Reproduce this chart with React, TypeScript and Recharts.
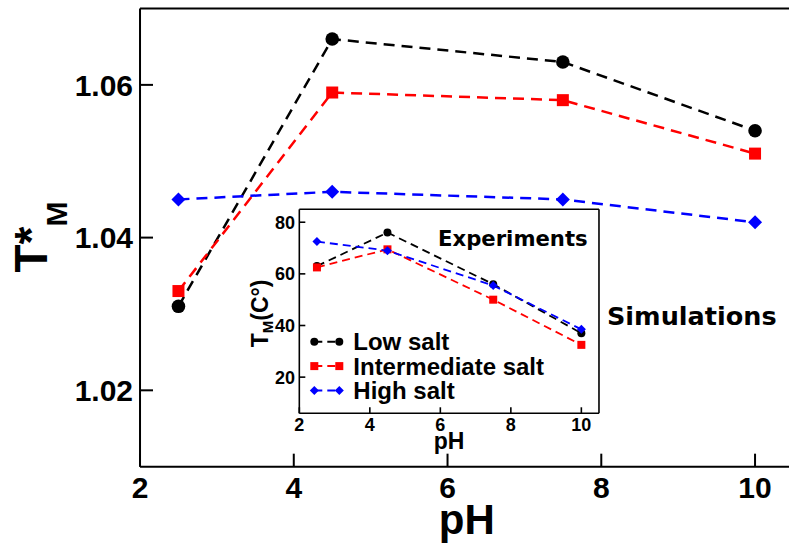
import React from 'react';
import { LineChart, Line, XAxis, YAxis, Legend, CartesianGrid } from 'recharts';

const FONT = "'Liberation Sans', Arial, Helvetica, sans-serif";
const DEJAVU = "'DejaVu Sans', Verdana, sans-serif";

// pH values sampled by both the simulations and the experiments
const phValues = [2.5, 4.5, 7.5, 10];

// Simulated reduced melting temperature T*_M
const simLowSalt = [1.031, 1.066, 1.063, 1.054];
const simIntermediateSalt = [1.033, 1.059, 1.058, 1.051];
const simHighSalt = [1.045, 1.046, 1.045, 1.042];

// Measured melting temperature T_M in °C
const expLowSalt = [63, 76, 56, 37];
const expIntermediateSalt = [62.5, 69.5, 50, 32.5];
const expHighSalt = [72.5, 69, 55.5, 38.5];

const seriesNames = ['Low salt', 'Intermediate salt', 'High salt'];
const seriesKeys = ['low', 'mid', 'high'];
const seriesColors = ['#000000', '#ff0000', '#0000ff'];
const seriesShapes = ['circle', 'square', 'diamond'];

const mainXTicks = [2, 4, 6, 8, 10];
const mainXMinorTicks = [3, 5, 7, 9];
const mainYTicks = [1.02, 1.04, 1.06];
const mainYMinorTicks = [1.03, 1.05];
const insetXTicks = [2, 4, 6, 8, 10];
const insetXMinorTicks = [3, 5, 7, 9];
const insetYTicks = [20, 40, 60, 80];
const insetYMinorTicks = [10, 30, 50, 70];

const simData = phValues.map((ph, i) => ({
  ph,
  low: simLowSalt[i],
  mid: simIntermediateSalt[i],
  high: simHighSalt[i],
}));

const expData = phValues.map((ph, i) => ({
  ph,
  low: expLowSalt[i],
  mid: expIntermediateSalt[i],
  high: expHighSalt[i],
}));

// axes are kept (almost) zero-sized so the plot frame sits exactly at the margins
const THIN = 0.01;

const markerShape = (shape: string, color: string, size: number, cx: number, cy: number, key: string) => {
  if (shape === 'circle') return <circle key={key} cx={cx} cy={cy} r={size} fill={color} />;
  if (shape === 'square')
    return <rect key={key} x={cx - size} y={cy - size} width={size * 2} height={size * 2} fill={color} />;
  return (
    <polygon
      key={key}
      points={`${cx},${cy - size} ${cx + size},${cy} ${cx},${cy + size} ${cx - size},${cy}`}
      fill={color}
    />
  );
};

const makeDot = (shape: string, color: string, size: number) => (props: any) => {
  const { cx, cy, index } = props;
  if (cx == null || cy == null) return <g key={`none-${index}`} />;
  return markerShape(shape, color, size, cx, cy, `dot-${shape}-${index}`);
};

const frame = (w: number) => ({ stroke: '#000', strokeWidth: w });

const MainXLabel = (props: any) => {
  const vb = props.viewBox || {};
  return (
    <text
      x={vb.x + vb.width / 2}
      y={vb.y + 67}
      textAnchor="middle"
      fontFamily={FONT}
      fontWeight="bold"
      fontSize={42}
      fill="#000"
    >
      pH
    </text>
  );
};

const MainYLabel = (props: any) => {
  const vb = props.viewBox || {};
  const bx = vb.x - 93;
  const by = vb.y + vb.height / 2 + 35;
  return (
    <text transform={`translate(${bx},${by}) rotate(-90)`} fontFamily={FONT} fontWeight="bold" fill="#000">
      <tspan fontSize={46}>T*</tspan>
      <tspan fontSize={30} dy={20}>
        M
      </tspan>
    </text>
  );
};

const InsetXLabel = (props: any) => {
  const vb = props.viewBox || {};
  return (
    <text
      x={vb.x + vb.width / 2}
      y={vb.y + 36}
      textAnchor="middle"
      fontFamily={FONT}
      fontWeight="bold"
      fontSize={23}
      fill="#000"
    >
      pH
    </text>
  );
};

const InsetYLabel = (props: any) => {
  const vb = props.viewBox || {};
  const bx = vb.x - 31;
  const by = vb.y + vb.height / 2 + 36;
  return (
    <text transform={`translate(${bx},${by}) rotate(-90)`} fontFamily={FONT} fontWeight="bold" fill="#000">
      <tspan fontSize={23}>T</tspan>
      <tspan fontSize={15} dy={5}>
        M
      </tspan>
      <tspan fontSize={23} dy={-5}>
        (C°)
      </tspan>
    </text>
  );
};

const InsetLegend = (props: any) => {
  const payload = [...(props.payload || [])].sort(
    (a: any, b: any) => seriesNames.indexOf(a.value) - seriesNames.indexOf(b.value),
  );
  return (
    <svg width={260} height={80} style={{ display: 'block', overflow: 'visible' }}>
      {payload.map((entry: any) => {
        const i = seriesNames.indexOf(entry.value);
        const y = 13.7 + i * 24.4;
        const color = seriesColors[i];
        const size = i === 2 ? 4.5 : 4;
        return (
          <g key={`legend-${i}`}>
            <line x1={14.3} y1={y} x2={39.3} y2={y} stroke={color} strokeWidth={2} strokeDasharray="8 5" />
            {markerShape(seriesShapes[i], color, size, 14.3, y, `lm-a-${i}`)}
            {markerShape(seriesShapes[i], color, size, 39.3, y, `lm-b-${i}`)}
            <text x={53.3} y={y + 8.6} fontFamily={FONT} fontWeight="bold" fontSize={24} fill="#000">
              {entry.value}
            </text>
          </g>
        );
      })}
    </svg>
  );
};

const mainTickStyle = { fontSize: 30, fontWeight: 700, fill: '#000', fontFamily: FONT };
const insetTickStyle = { fontSize: 18, fontWeight: 700, fill: '#000', fontFamily: FONT };

const MainChart = () => (
  <LineChart width={800} height={548} data={simData} margin={{ top: 8.5, right: 6.5, bottom: 81.3, left: 140 }}>
    <XAxis
      xAxisId="x"
      dataKey="ph"
      type="number"
      domain={[2, 10.5]}
      allowDataOverflow
      ticks={mainXTicks}
      interval={0}
      height={THIN}
      tickSize={-13}
      tickMargin={23.3}
      axisLine={frame(2)}
      tickLine={frame(2)}
      tick={mainTickStyle}
      label={{ content: MainXLabel }}
    />
    <XAxis
      xAxisId="xMinor"
      dataKey="ph"
      type="number"
      domain={[2, 10.5]}
      allowDataOverflow
      ticks={mainXMinorTicks}
      interval={0}
      height={THIN}
      tickSize={-7}
      axisLine={false}
      tickLine={frame(2)}
      tick={false}
    />
    <XAxis
      xAxisId="xTop"
      orientation="top"
      dataKey="ph"
      type="number"
      domain={[2, 10.5]}
      allowDataOverflow
      ticks={mainXTicks}
      interval={0}
      height={THIN}
      tickSize={-13}
      axisLine={frame(2)}
      tickLine={frame(2)}
      tick={false}
    />
    <XAxis
      xAxisId="xTopMinor"
      orientation="top"
      dataKey="ph"
      type="number"
      domain={[2, 10.5]}
      allowDataOverflow
      ticks={mainXMinorTicks}
      interval={0}
      height={THIN}
      tickSize={-7}
      axisLine={false}
      tickLine={frame(2)}
      tick={false}
    />
    <YAxis
      yAxisId="y"
      type="number"
      domain={[1.01, 1.07]}
      allowDataOverflow
      ticks={mainYTicks}
      interval={0}
      width={THIN}
      tickSize={-13}
      tickMargin={20}
      axisLine={frame(2)}
      tickLine={frame(2)}
      tick={mainTickStyle}
      tickFormatter={(v: number) => v.toFixed(2)}
      label={{ content: MainYLabel }}
    />
    <YAxis
      yAxisId="yMinor"
      type="number"
      domain={[1.01, 1.07]}
      allowDataOverflow
      ticks={mainYMinorTicks}
      interval={0}
      width={THIN}
      tickSize={-7}
      axisLine={false}
      tickLine={frame(2)}
      tick={false}
    />
    <YAxis
      yAxisId="yRight"
      orientation="right"
      type="number"
      domain={[1.01, 1.07]}
      allowDataOverflow
      ticks={mainYTicks}
      interval={0}
      width={THIN}
      tickSize={-13}
      axisLine={frame(2)}
      tickLine={frame(2)}
      tick={false}
    />
    <YAxis
      yAxisId="yRightMinor"
      orientation="right"
      type="number"
      domain={[1.01, 1.07]}
      allowDataOverflow
      ticks={mainYMinorTicks}
      interval={0}
      width={THIN}
      tickSize={-7}
      axisLine={false}
      tickLine={frame(2)}
      tick={false}
    />
    {seriesKeys.map((key, i) => (
      <Line
        key={key}
        xAxisId="x"
        yAxisId="y"
        type="linear"
        dataKey={key}
        name={seriesNames[i]}
        stroke={seriesColors[i]}
        strokeWidth={2.5}
        strokeDasharray="11 7"
        dot={makeDot(seriesShapes[i], seriesColors[i], i === 0 ? 6.8 : i === 1 ? 6 : 7)}
        activeDot={false}
        isAnimationActive={false}
      />
    ))}
  </LineChart>
);

const InsetChart = () => (
  <LineChart width={370} height={260} data={expData} margin={{ top: 9.3, right: 11, bottom: 46.7, left: 59.3 }}>
    <CartesianGrid xAxisId="x" yAxisId="y" horizontal={false} vertical={false} fill="#ffffff" fillOpacity={1} />
    <XAxis
      xAxisId="x"
      dataKey="ph"
      type="number"
      domain={[2, 10.5]}
      allowDataOverflow
      ticks={insetXTicks}
      interval={0}
      height={THIN}
      tickSize={-6}
      tickMargin={10.7}
      axisLine={frame(1.6)}
      tickLine={frame(1.6)}
      tick={insetTickStyle}
      label={{ content: InsetXLabel }}
    />
    <XAxis
      xAxisId="xMinor"
      dataKey="ph"
      type="number"
      domain={[2, 10.5]}
      allowDataOverflow
      ticks={insetXMinorTicks}
      interval={0}
      height={THIN}
      tickSize={-3.5}
      axisLine={false}
      tickLine={frame(1.6)}
      tick={false}
    />
    <XAxis
      xAxisId="xTop"
      orientation="top"
      dataKey="ph"
      type="number"
      domain={[2, 10.5]}
      allowDataOverflow
      ticks={insetXTicks}
      interval={0}
      height={THIN}
      tickSize={-6}
      axisLine={frame(1.6)}
      tickLine={frame(1.6)}
      tick={false}
    />
    <XAxis
      xAxisId="xTopMinor"
      orientation="top"
      dataKey="ph"
      type="number"
      domain={[2, 10.5]}
      allowDataOverflow
      ticks={insetXMinorTicks}
      interval={0}
      height={THIN}
      tickSize={-3.5}
      axisLine={false}
      tickLine={frame(1.6)}
      tick={false}
    />
    <YAxis
      yAxisId="y"
      type="number"
      domain={[6, 85]}
      allowDataOverflow
      ticks={insetYTicks}
      interval={0}
      width={THIN}
      tickSize={-6}
      tickMargin={10.3}
      axisLine={frame(1.6)}
      tickLine={frame(1.6)}
      tick={insetTickStyle}
      label={{ content: InsetYLabel }}
    />
    <YAxis
      yAxisId="yMinor"
      type="number"
      domain={[6, 85]}
      allowDataOverflow
      ticks={insetYMinorTicks}
      interval={0}
      width={THIN}
      tickSize={-3.5}
      axisLine={false}
      tickLine={frame(1.6)}
      tick={false}
    />
    <YAxis
      yAxisId="yRight"
      orientation="right"
      type="number"
      domain={[6, 85]}
      allowDataOverflow
      ticks={insetYTicks}
      interval={0}
      width={THIN}
      tickSize={-6}
      axisLine={frame(1.6)}
      tickLine={frame(1.6)}
      tick={false}
    />
    <YAxis
      yAxisId="yRightMinor"
      orientation="right"
      type="number"
      domain={[6, 85]}
      allowDataOverflow
      ticks={insetYMinorTicks}
      interval={0}
      width={THIN}
      tickSize={-3.5}
      axisLine={false}
      tickLine={frame(1.6)}
      tick={false}
    />
    {seriesKeys.map((key, i) => (
      <Line
        key={key}
        xAxisId="x"
        yAxisId="y"
        type="linear"
        dataKey={key}
        name={seriesNames[i]}
        stroke={seriesColors[i]}
        strokeWidth={1.8}
        strokeDasharray="8 5"
        dot={makeDot(seriesShapes[i], seriesColors[i], i === 2 ? 4.5 : 4)}
        activeDot={false}
        isAnimationActive={false}
      />
    ))}
    <Legend
      layout="vertical"
      align="center"
      verticalAlign="middle"
      content={InsetLegend}
      wrapperStyle={{ position: 'absolute', left: 60, top: 128, width: 260, height: 80 }}
    />
  </LineChart>
);

export default function App() {
  return (
    <div
      style={{
        position: 'absolute',
        left: 0,
        top: 0,
        width: 789,
        height: 548,
        overflow: 'hidden',
        background: '#ffffff',
      }}
    >
      <div style={{ position: 'absolute', left: 0, top: 0 }}>
        <MainChart />
      </div>
      <div style={{ position: 'absolute', left: 240, top: 200 }}>
        <InsetChart />
      </div>
      <svg
        width={789}
        height={548}
        style={{ position: 'absolute', left: 0, top: 0, pointerEvents: 'none' }}
      >
        <text x={438} y={245.5} fontFamily={DEJAVU} fontWeight="bold" fontSize={21.2} fill="#000">
          Experiments
        </text>
        <text x={607} y={325} fontFamily={DEJAVU} fontWeight="bold" fontSize={25.5} fill="#000">
          Simulations
        </text>
      </svg>
    </div>
  );
}
